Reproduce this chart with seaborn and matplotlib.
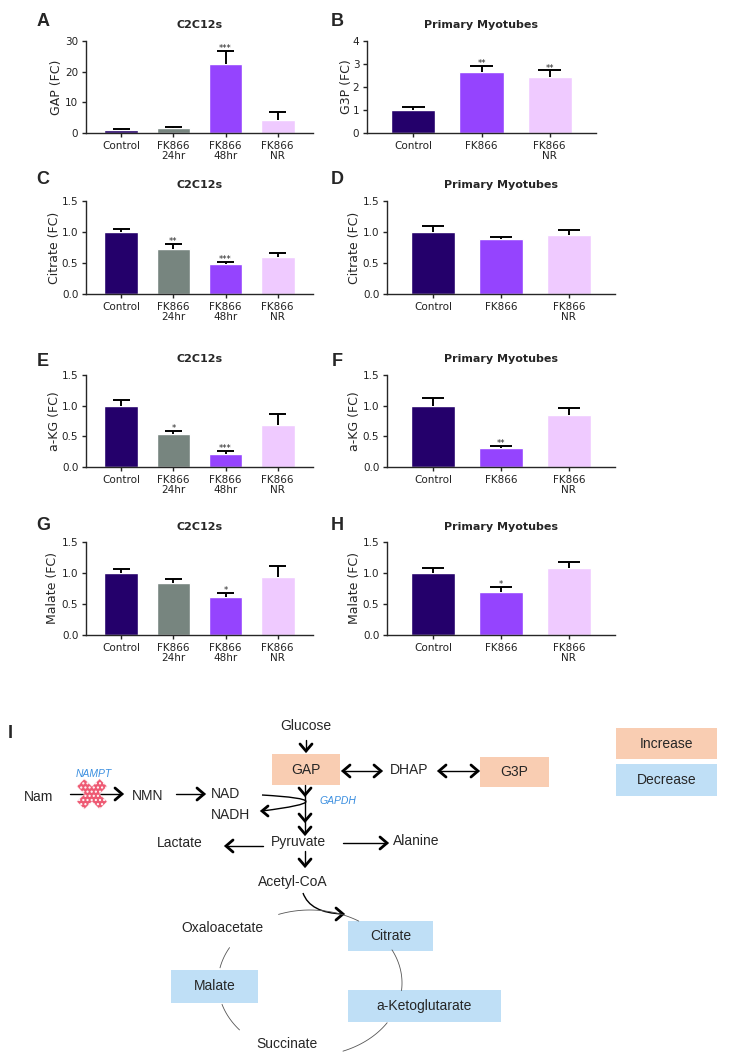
import numpy as np
import pandas as pd
import matplotlib.pyplot as plt
import seaborn as sns
from matplotlib.patches import Rectangle
from matplotlib.path import Path
from matplotlib.patches import PathPatch

sns.set_style("ticks")
plt.rcParams['font.family'] = ['DejaVu Sans']

W, H = 730, 1063

# groups
c2c_groups = ["Control", "FK866\n24hr", "FK866\n48hr", "FK866\nNR"]
pm_groups = ["Control", "FK866", "FK866\nNR"]
c2c_colors = ["#24006b", "#77857f", "#9544fe", "#efcaff"]
pm_colors = ["#24006b", "#9544fe", "#efcaff"]

# A - GAP, C2C12s
gap_c2c = [1.0, 1.6, 22.6, 4.2]
gap_c2c_err = [0.3, 0.25, 4.2, 2.6]
gap_c2c_sig = ["", "", "***", ""]
# B - G3P, primary myotubes
g3p_pm = [1.0, 2.65, 2.42]
g3p_pm_err = [0.13, 0.28, 0.3]
g3p_pm_sig = ["", "**", "**"]
# C / D - citrate
cit_c2c = [1.0, 0.73, 0.48, 0.59]
cit_c2c_err = [0.05, 0.07, 0.03, 0.07]
cit_c2c_sig = ["", "**", "***", ""]
cit_pm = [1.0, 0.89, 0.955]
cit_pm_err = [0.10, 0.03, 0.085]
cit_pm_sig = ["", "", ""]
# E / F - a-KG
akg_c2c = [1.0, 0.54, 0.22, 0.69]
akg_c2c_err = [0.10, 0.05, 0.04, 0.18]
akg_c2c_sig = ["", "*", "***", ""]
akg_pm = [1.0, 0.31, 0.85]
akg_pm_err = [0.13, 0.04, 0.12]
akg_pm_sig = ["", "**", ""]
# G / H - malate
mal_c2c = [1.0, 0.84, 0.62, 0.93]
mal_c2c_err = [0.06, 0.06, 0.055, 0.19]
mal_c2c_sig = ["", "", "*", ""]
mal_pm = [1.0, 0.70, 1.08]
mal_pm_err = [0.085, 0.07, 0.10]
mal_pm_sig = ["", "*", ""]

fig = plt.figure(figsize=(7.3, 10.63), dpi=100)


def bar_panel(rect, groups, means, errs, sig, colors, ylabel, title, yticks, ytl, labx):
    l, t, r, b = rect
    ax = fig.add_axes([l / W, 1 - b / H, (r - l) / W, (b - t) / H])
    df = pd.DataFrame({'group': groups, 'value': means})
    sns.barplot(data=df, x='group', y='value', hue='group', palette=colors,
                width=0.65, errorbar=None, legend=False, saturation=1, ax=ax)
    x = np.arange(len(groups))
    top = np.array(means) + np.array(errs)
    # upper-only SEM bars
    ax.vlines(x, means, top, color='black', lw=1.4)
    ax.hlines(top, x - 0.165, x + 0.165, color='black', lw=1.4)
    for xi, tp, s in zip(x, top, sig):
        if s:
            ax.annotate(s, (xi, tp), xytext=(0, -1.5), textcoords='offset points',
                        ha='center', va='bottom', fontsize=6)
    ax.set_xlim(-0.68, len(groups) - 0.32)
    ax.set_ylim(yticks[0], yticks[-1])
    ax.set_yticks(yticks)
    ax.set_yticklabels(ytl, fontsize=7.5)
    ax.set_xticks(x)
    ax.set_xticklabels(groups, fontsize=7.5, linespacing=1.1)
    ax.set_xlabel("")
    ax.set_ylabel(ylabel, fontsize=9)
    ax.yaxis.set_label_coords(labx, 0.5)
    ax.set_title(title, fontsize=8, fontweight='bold', pad=9)
    ax.tick_params(length=3, width=1, pad=2.5, colors='#222222')
    for sp in ['left', 'bottom']:
        ax.spines[sp].set_linewidth(1.0)
    sns.despine(ax=ax)
    return ax


half = [0, 0.5, 1.0, 1.5]
half_l = ["0.0", "0.5", "1.0", "1.5"]

bar_panel((86, 41, 313, 133), c2c_groups, gap_c2c, gap_c2c_err, gap_c2c_sig, c2c_colors,
          "GAP (FC)", "C2C12s", [0, 10, 20, 30], ["0", "10", "20", "30"], -0.10)
bar_panel((367, 41, 596, 133), pm_groups, g3p_pm, g3p_pm_err, g3p_pm_sig, pm_colors,
          "G3P (FC)", "Primary Myotubes", [0, 1, 2, 3, 4], ["0", "1", "2", "3", "4"], -0.06)
bar_panel((86, 201, 313, 294), c2c_groups, cit_c2c, cit_c2c_err, cit_c2c_sig, c2c_colors,
          "Citrate (FC)", "C2C12s", half, half_l, -0.11)
bar_panel((387, 201, 615, 294), pm_groups, cit_pm, cit_pm_err, cit_pm_sig, pm_colors,
          "Citrate (FC)", "Primary Myotubes", half, half_l, -0.114)
bar_panel((86, 375, 313, 467), c2c_groups, akg_c2c, akg_c2c_err, akg_c2c_sig, c2c_colors,
          "a-KG (FC)", "C2C12s", half, half_l, -0.11)
bar_panel((387, 375, 615, 467), pm_groups, akg_pm, akg_pm_err, akg_pm_sig, pm_colors,
          "a-KG (FC)", "Primary Myotubes", half, half_l, -0.114)
bar_panel((86, 542, 313, 635), c2c_groups, mal_c2c, mal_c2c_err, mal_c2c_sig, c2c_colors,
          "Malate (FC)", "C2C12s", half, half_l, -0.12)
bar_panel((387, 542, 615, 635), pm_groups, mal_pm, mal_pm_err, mal_pm_sig, pm_colors,
          "Malate (FC)", "Primary Myotubes", half, half_l, -0.114)

for letter, (lx, ly) in zip("ABCDEFGH", [(43, 21), (337, 21), (43, 180), (337, 180),
                                        (43, 362), (337, 362), (43, 526), (337, 526)]):
    fig.text(lx / W, 1 - ly / H, letter, fontsize=13, fontweight='bold',
             ha='center', va='center', family=['Liberation Sans', 'DejaVu Sans'])

# ---- pathway diagram (panel I), drawn in pixel coordinates
ad = fig.add_axes([0, 0, 1, 1])
ad.set_xlim(0, W)
ad.set_ylim(H, 0)
ad.axis('off')

dfont = ['Liberation Sans Narrow', 'Liberation Sans', 'DejaVu Sans']
up_col = "#f9cdb2"
down_col = "#bfdff6"
enz_col = "#3b8fe0"


def txt(x, y, s, size=10, **kw):
    ad.text(x, y, s, ha='center', va='center', fontsize=size, family=dfont, **kw)


def box(x0, y0, x1, y1, color, label):
    ad.add_patch(Rectangle((x0, y0), x1 - x0, y1 - y0, facecolor=color, edgecolor='none'))
    txt((x0 + x1) / 2, (y0 + y1) / 2, label)


def chev(x, y, d, s=6, depth=7, lw=2.0):
    if d == 'r':
        pts = [(x - depth, y - s), (x, y), (x - depth, y + s)]
    elif d == 'l':
        pts = [(x + depth, y - s), (x, y), (x + depth, y + s)]
    elif d == 'd':
        pts = [(x - s, y - depth), (x, y), (x + s, y - depth)]
    else:
        pts = [(x - s, y + depth), (x, y), (x + s, y + depth)]
    xs, ys = zip(*pts)
    ad.plot(xs, ys, color='black', lw=lw, solid_joinstyle='miter')


def line(x0, y0, x1, y1, lw=1.0, color='black'):
    ad.plot([x0, x1], [y0, y1], color=color, lw=lw)


ad.text(10, 733, "I", fontsize=13, fontweight='bold', ha='center', va='center',
        family=['Liberation Sans', 'DejaVu Sans'])

box(272, 754, 340, 785, up_col, "GAP")
box(480, 757, 549, 787, up_col, "G3P")
box(616, 728, 717, 759, up_col, "Increase")
box(616, 764, 717, 796, down_col, "Decrease")
box(348, 921, 433, 951, down_col, "Citrate")
box(171, 970, 258, 1003, down_col, "Malate")
box(348, 990, 501, 1022, down_col, "a-Ketoglutarate")

txt(306, 726, "Glucose")
txt(409, 770, "DHAP")
txt(39, 797, "Nam")
txt(148, 796, "NMN")
txt(226, 794, "NAD")
txt(231, 815, "NADH")
txt(180, 843, "Lactate")
txt(298, 842, "Pyruvate")
txt(416, 841, "Alanine")
txt(293, 882, "Acetyl-CoA")
txt(222, 928, "Oxaloacetate")
txt(287, 1044, "Succinate")
txt(94, 774, "NAMPT", size=7.5, style='italic', color=enz_col)
txt(338, 801, "GAPDH", size=7.5, style='italic', color=enz_col)

# glucose -> GAP
line(306, 740, 306, 751)
chev(306, 751, 'd')
# GAP <-> DHAP <-> G3P
line(343, 771, 381, 771)
chev(343, 771, 'l')
chev(381, 771, 'r')
line(439, 771, 478, 771)
chev(439, 771, 'l')
chev(478, 771, 'r')
# GAP -> pyruvate
line(305, 785, 305, 834)
chev(305, 795, 'd')
chev(305, 821, 'd')
chev(305, 834, 'd')
# NAD -> NADH loop
loop = Path([(262, 795), (350, 800), (262, 811)], [Path.MOVETO, Path.CURVE3, Path.CURVE3])
ad.add_patch(PathPatch(loop, facecolor='none', edgecolor='black', lw=1.0))
chev(262, 811, 'l', s=5, depth=6)
# Nam -> NMN -> NAD
line(70, 794, 122, 794)
chev(122, 794, 'r')
ad.scatter([92], [794], marker='X', s=480, color='#ee5a73', edgecolor='white',
           hatch='....', linewidth=0.3, zorder=3)
line(176, 794, 204, 794)
chev(204, 794, 'r')
# pyruvate -> lactate / alanine / acetyl-CoA
line(263, 846, 226, 846)
chev(226, 846, 'l')
line(343, 843, 387, 843)
chev(387, 843, 'r')
line(305, 851, 305, 866)
chev(305, 866, 'd')
# acetyl-CoA -> citrate
acc = Path([(303, 893), (310, 913), (343, 914)], [Path.MOVETO, Path.CURVE3, Path.CURVE3])
ad.add_patch(PathPatch(acc, facecolor='none', edgecolor='black', lw=1.0))
chev(343, 914, 'r')

# TCA cycle arcs (ellipse pieces)
cx, cy, a, b = 310, 983, 92, 73
for t0, t1 in [(-110, -58), (-27, 6), (33, 69), (140, 163), (192, 209)]:
    tt = np.radians(np.linspace(t0, t1, 40))
    ad.plot(cx + a * np.cos(tt), cy + b * np.sin(tt), color='#555555', lw=0.6)

fig.savefig("out.png", dpi=100)
